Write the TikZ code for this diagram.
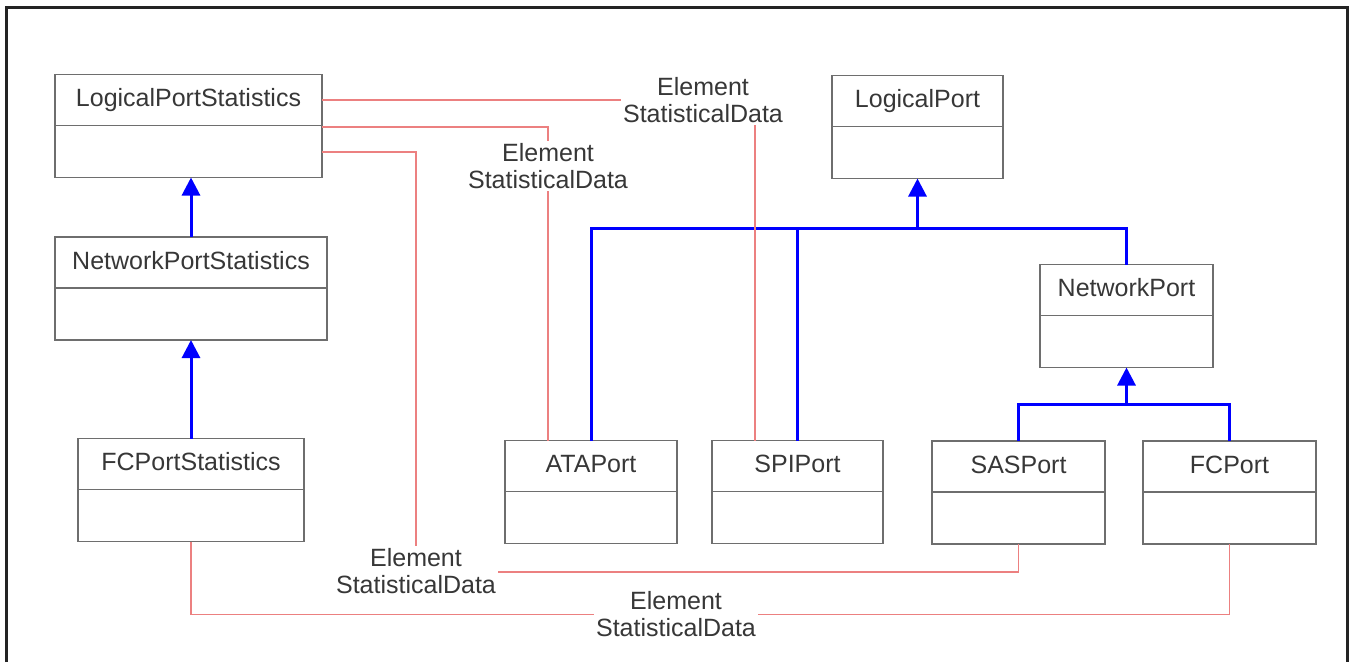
\documentclass[tikz,border=0pt]{standalone}
\usepackage{fontspec}
\setmainfont{Liberation Sans}
\usetikzlibrary{positioning,calc,arrows.meta}
\definecolor{boxgrey}{RGB}{110,110,110}
\definecolor{textgrey}{RGB}{55,55,55}
\definecolor{assocred}{RGB}{236,128,128}
\definecolor{framegrey}{RGB}{35,35,35}
\begin{document}
\begin{tikzpicture}[x=1pt, y=-1pt,
  class head/.style={draw=boxgrey, line width=1.5pt, minimum height=51pt, inner sep=0pt, outer sep=0pt, text=textgrey, font=\fontsize{25}{27}\selectfont, text height=18pt, text depth=5pt},
  class body/.style={draw=boxgrey, line width=1.5pt, minimum height=52pt, inner sep=0pt, outer sep=0pt},
  inherit/.style={draw=blue, line width=3pt},
  inherit arrow/.style={inherit, -{Triangle[width=18pt,length=18pt]}},
  assoc/.style={draw=assocred, line width=1.6pt},
  assoc label/.style={fill=white, align=center, inner sep=2pt, text=textgrey, font=\fontsize{25}{27}\selectfont}]
\useasboundingbox (0,0) rectangle (1351,662);
\draw[framegrey, line width=3pt] (6,662) -- (6,7) -- (1347,7) -- (1347,662);
% classes
\begin{scope}
\node[class head, minimum width=267pt] (lps) at (188.5,100) {LogicalPortStatistics};
\node[class body, minimum width=267pt, below=0pt of lps] (lpsb) {};
\node[class head, minimum width=272pt] (nps) at (191,262.5) {NetworkPortStatistics};
\node[class body, minimum width=272pt, below=0pt of nps] (npsb) {};
\node[class head, minimum width=226pt] (fcps) at (191,464) {FCPortStatistics};
\node[class body, minimum width=226pt, below=0pt of fcps] (fcpsb) {};
\node[class head, minimum width=171pt] (lp) at (917.5,101) {LogicalPort};
\node[class body, minimum width=171pt, below=0pt of lp] (lpb) {};
\node[class head, minimum width=173pt] (np) at (1126.5,290) {NetworkPort};
\node[class body, minimum width=173pt, below=0pt of np] (npb) {};
\node[class head, minimum width=172pt] (ata) at (591,466) {ATAPort};
\node[class body, minimum width=172pt, below=0pt of ata] (atab) {};
\node[class head, minimum width=171pt] (spi) at (797.5,466) {SPIPort};
\node[class body, minimum width=171pt, below=0pt of spi] (spib) {};
\node[class head, minimum width=173pt] (sas) at (1018.5,466.5) {SASPort};
\node[class body, minimum width=173pt, below=0pt of sas] (sasb) {};
\node[class head, minimum width=173pt] (fc) at (1229.5,466.5) {FCPort};
\node[class body, minimum width=173pt, below=0pt of fc] (fcb) {};
\end{scope}
% inheritance
\coordinate (lpj) at ([yshift=-50pt]lpb.south);
\coordinate (npj) at ([yshift=-37pt]npb.south);
\draw[inherit arrow] (nps.north) -- (nps.north |- lpsb.south);
\draw[inherit arrow] (fcps.north) -- (npsb.south);
\draw[inherit] (ata.north) |- (lpj);
\draw[inherit] (spi.north) |- (lpj);
\draw[inherit] (np.north) |- (lpj);
\draw[inherit arrow] (lpj) -- (lpb.south);
\draw[inherit] (sas.north) |- (npj);
\draw[inherit] (fc.north) |- (npj);
\draw[inherit arrow] (npj) -- (npb.south);
% associations
\coordinate (ataq) at ($(ata.north west)!.25!(ata.north east)$);
\coordinate (spiq) at ($(spi.north west)!.25!(spi.north east)$);
\draw[assoc] (lps.east) -| (spiq);
\draw[assoc] ([yshift=-1.5pt]lps.south east) -| (ataq);
\draw[assoc] ([yshift=-0.5pt]lpsb.east) -| (416,572) -| (sasb.south);
\draw[assoc] (fcpsb.south) -- ++(0,73) -| (fcb.south);
\node[assoc label] (esd1) at (703,100) {Element\\StatisticalData};
\node[assoc label] (esd2) at (548,166) {Element\\StatisticalData};
\node[assoc label] (esd3) at (416,571) {Element\\StatisticalData};
\node[assoc label] (esd4) at (676,614) {Element\\StatisticalData};
\end{tikzpicture}
\end{document}
